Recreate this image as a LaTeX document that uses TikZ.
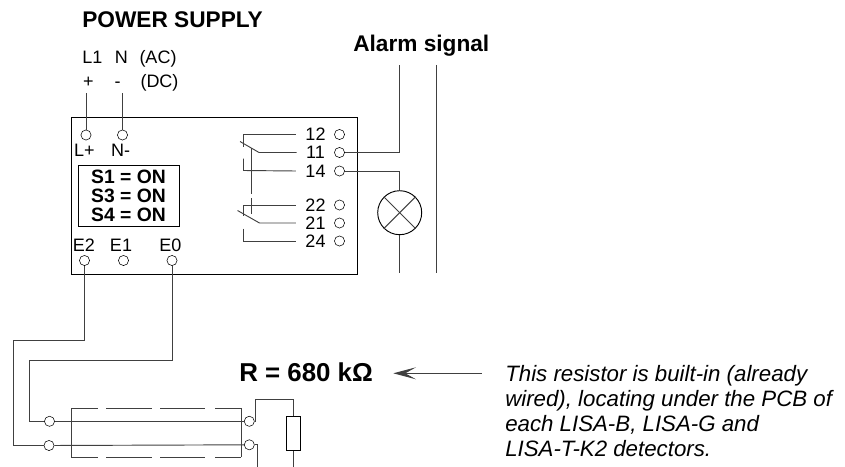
\documentclass[tikz,border=0pt]{standalone}
\usepackage{fontspec}
\setmainfont{Liberation Sans}
\usepackage{tikz}
\usetikzlibrary{arrows.meta}
\usetikzlibrary{positioning}
\tikzset{term/.style = {draw, circle, fill = white, inner sep = 0, minimum size = 7.6}}
\tikzset{lab/.style = {font = \fontsize{13.5}{16}\selectfont, inner sep = 0}}
\tikzset{baselab/.style = {lab, anchor = base}}
\tikzset{boldlab/.style = {font = \fontsize{17}{20}\selectfont\bfseries, inner sep = 0}}
\tikzset{wire/.style = {line width = 0.7pt, color = black!75}}

\begin{document}
\begin{tikzpicture}[x = 0.75pt, y = -0.75pt]
      \useasboundingbox (0, 0) rectangle (845, 467);

      % relay module
      \node [draw, line width = 0.7pt, minimum width = 214.5pt, minimum height = 118pt, inner sep = 0, anchor = north west] (module) at (70.5, 117) {};
      \node [draw, line width = 0.7pt, minimum width = 75.75pt, minimum height = 45.5pt, inner sep = 0, anchor = north west] (switches) at (77.5, 165.3) {};
      \node [inner sep = 0, align = center, font = \fontsize{14.5}{14.3}\selectfont\bfseries] (switchtext) at (switches.center) {S1 = ON\\S3 = ON\\S4 = ON};

      % texts
      \node [boldlab, anchor = base west] (supply) at (82, 28) {POWER SUPPLY};
      \node [baselab] (lone) at (92.5, 64) {L1};
      \node [baselab] (neutral) at (121.3, 64) {N};
      \node [baselab] (ac) at (158, 64) {(AC)};
      \node [baselab] (plus) at (88.3, 88) {+};
      \node [baselab] (minus) at (117.7, 88) {-};
      \node [baselab] (dc) at (159.5, 88) {(DC)};
      \node [boldlab, anchor = base west] (alarm) at (353, 52) {Alarm signal};
      \node [baselab] (lplus) at (84.5, 156.7) {L+};
      \node [baselab] (nminus) at (120.5, 156.7) {N-};
      \node [baselab] (etwo) at (84, 251) {E2};
      \node [baselab] (eone) at (121, 251) {E1};
      \node [baselab] (ezero) at (170.5, 251) {E0};

      % terminals
      \node [term] (tl) at (86, 135) {};
      \node [term] (tn) at (122.5, 135) {};
      \node [term] (te2) at (84.5, 260.5) {};
      \node [term] (te1) at (123.5, 260.5) {};
      \node [term] (te0) at (172, 260.5) {};
      \foreach \i/\y in {12/134.5, 11/152.5, 14/171, 22/205, 21/223, 24/241} {
        \node [lab] (n\i) at (315.5, \y) {\i};
        \node [term] (t\i) at (339.5, \y) {};
      }

      % relay contacts
      \draw [wire] ([xshift = -7]n12.west) -- (243.5, 134.5) -- (243.5, 147);
      \draw [wire] (240, 141.5) -- (259, 152.5) -- ([xshift = -7]n11.west);
      \draw [wire] (243.5, 158.5) -- (243.5, 170.5) -- ([xshift = -7]n14.west);
      \draw [wire] ([xshift = -7]n22.west) -- (243, 205) -- (243, 216);
      \draw [wire] (237.5, 210.5) -- (259.5, 223) -- ([xshift = -7]n21.west);
      \draw [wire] (243, 228.5) -- (243, 241) -- ([xshift = -7]n24.west);
      \draw [wire] (251, 148) -- (251, 193.5);
      \draw [wire] (251, 198) -- (251, 214);

      % alarm and lamp
      \node [draw, circle, line width = 0.7pt, inner sep = 0, minimum size = 33pt] (lamp) at (399.7, 212.7) {};
      \draw [wire] (lamp.north west) -- (lamp.south east);
      \draw [wire] (lamp.north east) -- (lamp.south west);
      \coordinate (alarmend) at (399.5, 65);
      \coordinate (lampend) at (399.7, 272.5);
      \coordinate (railtop) at (436.7, 65);
      \coordinate (railend) at (436.7, 272.5);
      \draw [wire] (t11) -- (alarmend |- t11) -- (alarmend);
      \draw [wire] (t14) -- (lamp.north |- t14) -- (lamp.north);
      \draw [wire] (lamp.south) -- (lampend);
      \draw [wire] (railtop) -- (railend);

      % supply
      \coordinate (lineend) at (86, 93);
      \coordinate (neutralend) at (122.5, 93);
      \draw [wire] (lineend) -- (tl);
      \draw [wire] (neutralend) -- (tn);

      % shield
      \foreach \a/\b in {71/98, 106/152, 160/205, 215/241.3} {
        \draw [wire] (\a, 408) -- (\b, 408);
        \draw [wire] (\a, 457) -- (\b, 457);
      }
      \draw [wire] (71, 408) -- (71, 457);
      \draw [wire] (241.3, 408) -- (241.3, 457);

      % cable and resistor
      \coordinate (ecorner) at (13.3, 340.7);
      \coordinate (zcorner) at (29.3, 360);
      \node [term] (ca) at (49.5, 421.3) {};
      \node [term] (cb) at (49, 445.5) {};
      \node [term] (cc) at (249.3, 421.3) {};
      \node [term] (cd) at (249.3, 444.8) {};
      \node [draw, line width = 0.7pt, inner sep = 0, minimum width = 10.7pt, minimum height = 25.5pt] (resistor) at (293.5, 433.3) {};
      \coordinate (resend) at (293.5, 467);
      \coordinate (cdend) at (257, 467);
      \draw [wire] (te2) -- (te2 |- ecorner) -- (ecorner) -- (ecorner |- cb) -- (cb);
      \draw [wire] (te0) -- (te0 |- zcorner) -- (zcorner) -- (zcorner |- ca) -- (ca);
      \draw [wire] (ca) -- (cc);
      \draw [wire] (cb) -- (cd);
      \draw [wire] (cc.east) -- (255.3, 421.3) -- (255.3, 399.3) -- (resistor.north |- 0, 399.3) -- (resistor.north);
      \draw [wire] (cd.east) -- (cdend |- cd) -- (cdend);
      \draw [wire] (resistor.south) -- (resend);

      % note
      \node [font = \fontsize{19.4}{22}\selectfont\bfseries, inner sep = 0, anchor = base west] (rvalue) at (239, 381) {R = 680 kΩ};
      \coordinate (notestart) at (481.7, 373.3);
      \coordinate (notetip) at (393.3, 373.3);
      \draw [-{Stealth[length = 17pt, width = 9pt, inset = 8pt]}, wire] (notestart) -- (notetip);
      \node [anchor = north west, inner sep = 0, align = left, font = \fontsize{16.7}{18.75}\selectfont\itshape] (note) at (505, 365.5) {This resistor is built-in (already\\wired), locating under the PCB of\\each LISA-B, LISA-G and\\LISA-T-K2 detectors.};
    \end{tikzpicture}
\end{document}
